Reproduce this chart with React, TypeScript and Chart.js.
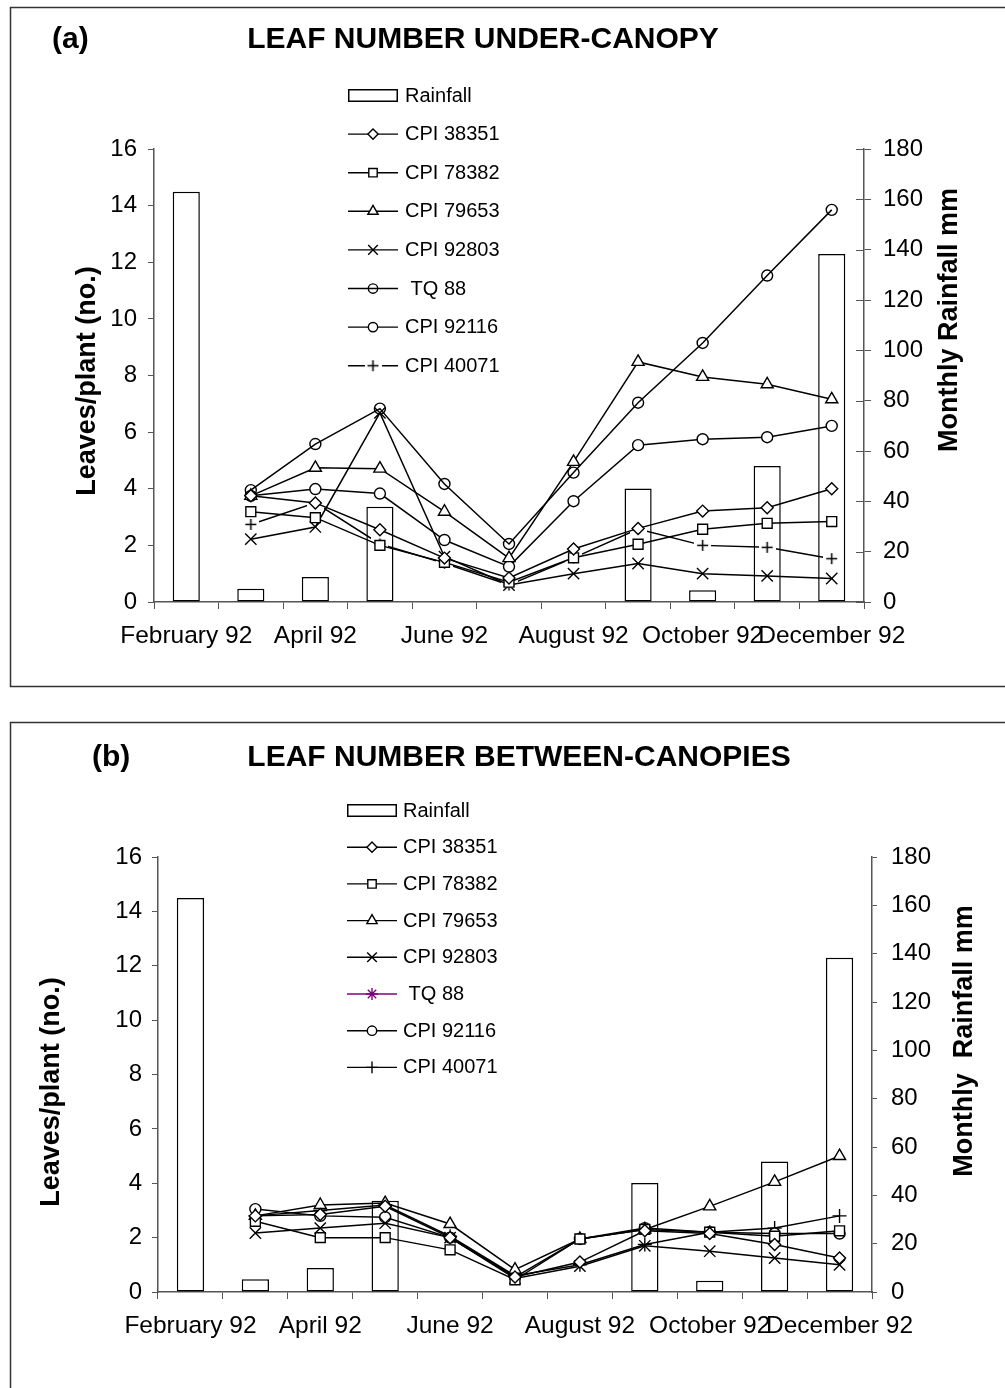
import React, { useEffect, useRef } from 'react';
import { Chart, registerables } from 'chart.js';

Chart.register(...registerables);

const FONT = '"Liberation Sans", Arial, Helvetica, sans-serif';

// Months of 1992 on the category axis (every other one is labelled)
const months = [
  'February 92', 'March 92', 'April 92', 'May 92', 'June 92', 'July 92',
  'August 92', 'September 92', 'October 92', 'November 92', 'December 92',
];

// Monthly rainfall (mm), right axis
const rainfallMm = [163, 5.3, 9.9, 37.8, 0, 0, 0, 45.1, 4.7, 54, 138.3];

// Leaves per plant under the canopy
const underCpi38351 = [null, 3.75, 3.5, 2.55, 1.55, 0.85, 1.87, 2.6, 3.21, 3.33, 4.0];
const underCpi78382 = [null, 3.19, 2.98, 2.0, 1.4, 0.7, 1.56, 2.04, 2.57, 2.78, 2.84];
const underCpi79653 = [null, 3.75, 4.74, 4.71, 3.19, 1.55, 4.95, 8.48, 7.95, 7.69, 7.16];
const underCpi92803 = [null, 2.22, 2.65, 6.68, 1.6, 0.6, 1.0, 1.36, 1.0, 0.92, 0.83];
const underTq88 = [null, 3.95, 5.58, 6.83, 4.17, 2.05, 4.57, 7.04, 9.15, 11.53, 13.85];
const underCpi92116 = [null, 3.75, 3.99, 3.83, 2.19, 1.25, 3.56, 5.54, 5.75, 5.82, 6.22];
const underCpi40071 = [null, 2.74, 3.5, 2.05, 1.37, 0.6, 1.56, 2.58, 2.0, 1.93, 1.53];

// Leaves per plant between the canopies
const betweenCpi38351 = [null, 2.8, 2.85, 3.15, 2.0, 0.55, 1.1, 2.25, 2.15, 1.75, 1.25];
const betweenCpi78382 = [null, 2.6, 2.0, 2.0, 1.55, 0.45, 1.95, 2.3, 2.2, 2.05, 2.25];
const betweenCpi79653 = [null, 2.8, 3.2, 3.27, 2.5, 0.82, 1.95, 2.3, 3.15, 4.05, 5.0];
const betweenCpi92803 = [null, 2.17, 2.35, 2.53, 2.0, 0.5, 0.95, 1.7, 1.5, 1.25, 1.0];
const betweenTq88 = [null, null, null, null, null, null, null, null, null, null, null];
const betweenCpi92116 = [null, 3.05, 2.8, 2.75, 2.0, 0.55, 1.95, 2.35, 2.2, 2.15, 2.15];
const betweenCpi40071 = [null, 2.8, 3.0, 3.2, 2.05, 0.6, 1.0, 1.75, 2.2, 2.35, 2.8];

// "+" marker drawn on a white box, so the line breaks around it
function boxedPlus(): HTMLCanvasElement {
  const c = document.createElement('canvas');
  c.width = 17;
  c.height = 17;
  const g = c.getContext('2d')!;
  g.fillStyle = '#fff';
  g.fillRect(0, 0, 17, 17);
  g.strokeStyle = '#000';
  g.lineWidth = 1.5;
  g.beginPath();
  g.moveTo(8.5, 3);
  g.lineTo(8.5, 14);
  g.moveTo(3, 8.5);
  g.lineTo(14, 8.5);
  g.stroke();
  return c;
}

type Series = {
  label: string;
  data: (number | null)[];
  style: any;
  radius: number;
  fill: string;
  color: string;
};

type Panel = {
  tag: string;
  title: string;
  tagX: number;
  titleX: number;
  titleY: number;
  leftTitle: string;
  leftTitleX: number;
  leftTitleY: number;
  rightTitle: string;
  rightTitleX: number;
  rightTitleY: number;
  legendX: number;
  legendTextX: number;
  legendY: number;
  legendGap: number;
  frameTop: number;
  frameBottom: number;
  area: { left: number; right: number; top: number; bottom: number };
  leftTickPad: number;
  rightTickPad: number;
  rightTickLen: number;
  rightInnerTick: number;
  xTickPad: number;
  series: Series[];
};

function buildPanels(): Panel[] {
  const plusBox = boxedPlus();
  const a: Panel = {
    tag: '(a)',
    title: 'LEAF NUMBER UNDER-CANOPY',
    tagX: 52,
    titleX: 483,
    titleY: 48,
    leftTitle: 'Leaves/plant (no.)',
    leftTitleX: 88,
    leftTitleY: 381,
    rightTitle: 'Monthly Rainfall mm',
    rightTitleX: 950,
    rightTitleY: 320,
    legendX: 348,
    legendTextX: 405,
    legendY: 95,
    legendGap: 38.6,
    frameTop: 7,
    frameBottom: 686,
    area: { left: 154, right: 864, top: 149, bottom: 602 },
    leftTickPad: 11,
    rightTickPad: 12,
    rightTickLen: 7,
    rightInnerTick: 8,
    xTickPad: 13,
    series: [
      { label: 'CPI 38351', data: underCpi38351, style: 'rectRot', radius: 6, fill: '#fff', color: '#000' },
      { label: 'CPI 78382', data: underCpi78382, style: 'rect', radius: 7, fill: '#fff', color: '#000' },
      { label: 'CPI 79653', data: underCpi79653, style: 'triangle', radius: 7, fill: '#fff', color: '#000' },
      { label: 'CPI 92803', data: underCpi92803, style: 'crossRot', radius: 8, fill: '#fff', color: '#000' },
      { label: ' TQ 88', data: underTq88, style: 'circle', radius: 5.5, fill: 'rgba(0,0,0,0)', color: '#000' },
      { label: 'CPI 92116', data: underCpi92116, style: 'circle', radius: 5.5, fill: '#fff', color: '#000' },
      { label: 'CPI 40071', data: underCpi40071, style: plusBox, radius: 6, fill: '#fff', color: '#000' },
    ],
  };
  const b: Panel = {
    tag: '(b)',
    title: 'LEAF NUMBER BETWEEN-CANOPIES',
    tagX: 92,
    titleX: 519,
    titleY: 66,
    leftTitle: 'Leaves/plant (no.)',
    leftTitleX: 52,
    leftTitleY: 392,
    rightTitle: 'Monthly  Rainfall mm',
    rightTitleX: 965,
    rightTitleY: 341,
    legendX: 347,
    legendTextX: 403,
    legendY: 110,
    legendGap: 36.7,
    frameTop: 22,
    frameBottom: 760,
    area: { left: 158, right: 872, top: 157, bottom: 592 },
    leftTickPad: 10,
    rightTickPad: 14,
    rightTickLen: 5,
    rightInnerTick: 0,
    xTickPad: 13,
    series: [
      { label: 'CPI 38351', data: betweenCpi38351, style: 'rectRot', radius: 6, fill: '#fff', color: '#000' },
      { label: 'CPI 78382', data: betweenCpi78382, style: 'rect', radius: 7, fill: '#fff', color: '#000' },
      { label: 'CPI 79653', data: betweenCpi79653, style: 'triangle', radius: 7, fill: '#fff', color: '#000' },
      { label: 'CPI 92803', data: betweenCpi92803, style: 'crossRot', radius: 8, fill: '#fff', color: '#000' },
      { label: ' TQ 88', data: betweenTq88, style: 'star', radius: 7, fill: '#fff', color: '#800080' },
      { label: 'CPI 92116', data: betweenCpi92116, style: 'circle', radius: 5.5, fill: '#fff', color: '#000' },
      { label: 'CPI 40071', data: betweenCpi40071, style: 'cross', radius: 7, fill: '#fff', color: '#000' },
    ],
  };
  return [a, b];
}

function drawMarker(ctx: CanvasRenderingContext2D, style: any, r: number, x: number, y: number, fill: string, stroke: string) {
  if (style instanceof HTMLCanvasElement) {
    ctx.drawImage(style, x - style.width / 2, y - style.height / 2);
    return;
  }
  ctx.save();
  ctx.lineWidth = 1.4;
  ctx.strokeStyle = stroke;
  ctx.fillStyle = fill;
  ctx.beginPath();
  const d = r * Math.SQRT1_2;
  switch (style) {
    case 'circle':
      ctx.arc(x, y, r, 0, Math.PI * 2);
      ctx.fill();
      break;
    case 'rect':
      ctx.rect(x - d, y - d, 2 * d, 2 * d);
      ctx.fill();
      break;
    case 'rectRot':
      ctx.moveTo(x, y - r);
      ctx.lineTo(x + r, y);
      ctx.lineTo(x, y + r);
      ctx.lineTo(x - r, y);
      ctx.closePath();
      ctx.fill();
      break;
    case 'triangle': {
      let rad = 0;
      ctx.moveTo(x + Math.sin(rad) * r, y - Math.cos(rad) * r);
      rad += (2 * Math.PI) / 3;
      ctx.lineTo(x + Math.sin(rad) * r, y - Math.cos(rad) * r);
      rad += (2 * Math.PI) / 3;
      ctx.lineTo(x + Math.sin(rad) * r, y - Math.cos(rad) * r);
      ctx.closePath();
      ctx.fill();
      break;
    }
    case 'crossRot':
      ctx.moveTo(x - d, y - d);
      ctx.lineTo(x + d, y + d);
      ctx.moveTo(x - d, y + d);
      ctx.lineTo(x + d, y - d);
      break;
    case 'cross':
      ctx.moveTo(x, y - r);
      ctx.lineTo(x, y + r);
      ctx.moveTo(x - r, y);
      ctx.lineTo(x + r, y);
      break;
    case 'star':
      ctx.moveTo(x, y - r);
      ctx.lineTo(x, y + r);
      ctx.moveTo(x - r, y);
      ctx.lineTo(x + r, y);
      ctx.moveTo(x - d, y - d);
      ctx.lineTo(x + d, y + d);
      ctx.moveTo(x - d, y + d);
      ctx.lineTo(x + d, y - d);
      break;
  }
  ctx.stroke();
  ctx.restore();
}

function decorPlugin(p: Panel) {
  return {
    id: 'panelDecor',
    beforeDraw(chart: any) {
      const ctx: CanvasRenderingContext2D = chart.ctx;
      ctx.save();
      ctx.strokeStyle = '#333';
      ctx.lineWidth = 1.5;
      ctx.strokeRect(10.5, p.frameTop + 0.5, 1100, p.frameBottom - p.frameTop);
      ctx.restore();
    },
    afterDraw(chart: any) {
      const ctx: CanvasRenderingContext2D = chart.ctx;
      ctx.save();
      ctx.fillStyle = '#000';

      // panel tag and title
      ctx.font = `bold 30px ${FONT}`;
      ctx.textBaseline = 'alphabetic';
      ctx.textAlign = 'left';
      ctx.fillText(p.tag, p.tagX, p.titleY);
      ctx.textAlign = 'center';
      ctx.fillText(p.title, p.titleX, p.titleY);

      // axis titles
      ctx.font = `bold 27px ${FONT}`;
      ctx.textBaseline = 'middle';
      for (const [text, x, y] of [
        [p.leftTitle, p.leftTitleX, p.leftTitleY],
        [p.rightTitle, p.rightTitleX, p.rightTitleY],
      ] as [string, number, number][]) {
        ctx.save();
        ctx.translate(x, y);
        ctx.rotate(-Math.PI / 2);
        ctx.fillText(text, 0, 0);
        ctx.restore();
      }

      // inner half of the right axis ticks
      if (p.rightInnerTick > 0) {
        const y1 = chart.scales.y1;
        const right = chart.chartArea.right;
        ctx.strokeStyle = '#555';
        ctx.lineWidth = 1;
        ctx.beginPath();
        for (const t of y1.ticks) {
          const py = Math.round(y1.getPixelForValue(t.value)) + 0.5;
          ctx.moveTo(right - p.rightInnerTick, py);
          ctx.lineTo(right, py);
        }
        ctx.stroke();
      }

      // legend
      ctx.font = `20px ${FONT}`;
      ctx.textAlign = 'left';
      ctx.textBaseline = 'middle';
      chart.data.datasets.forEach((ds: any, i: number) => {
        const y = p.legendY + i * p.legendGap;
        const x0 = p.legendX;
        if (ds.type === 'bar') {
          ctx.save();
          ctx.fillStyle = '#fff';
          ctx.strokeStyle = '#000';
          ctx.lineWidth = 1.5;
          ctx.fillRect(x0, y - 6, 50, 12);
          ctx.strokeRect(x0 + 0.75, y - 6 + 0.75, 48.5, 11.5);
          ctx.restore();
        } else {
          ctx.save();
          ctx.strokeStyle = ds.borderColor;
          ctx.lineWidth = 1.4;
          ctx.beginPath();
          ctx.moveTo(x0, y + 0.5);
          ctx.lineTo(x0 + 50, y + 0.5);
          ctx.stroke();
          ctx.restore();
          drawMarker(ctx, ds.pointStyle, ds.pointRadius * 0.85, x0 + 25, y + 0.5, ds.pointBackgroundColor, ds.pointBorderColor);
        }
        ctx.fillStyle = '#000';
        ctx.fillText(ds.label, p.legendTextX, y + 1);
      });
      ctx.restore();
    },
  };
}

function buildConfig(p: Panel, width: number, height: number): any {
  const tickFont = { family: FONT, size: 24 };
  const datasets: any[] = [
    {
      type: 'bar',
      label: 'Rainfall',
      data: rainfallMm,
      yAxisID: 'y1',
      backgroundColor: '#fff',
      borderColor: '#000',
      borderWidth: 1.5,
      borderSkipped: false,
      barPercentage: 0.42,
      categoryPercentage: 1,
      order: 1,
    },
    ...p.series.map((s) => ({
      type: 'line',
      label: s.label,
      data: s.data,
      yAxisID: 'y',
      borderColor: s.color,
      borderWidth: 1.5,
      pointStyle: s.style,
      pointRadius: s.radius,
      pointHoverRadius: s.radius,
      pointBackgroundColor: s.fill,
      pointBorderColor: s.color,
      pointBorderWidth: 1.4,
      tension: 0,
      fill: false,
      spanGaps: false,
      order: 0,
    })),
  ];
  return {
    type: 'bar',
    data: { labels: months, datasets },
    options: {
      responsive: false,
      maintainAspectRatio: false,
      animation: false,
      events: [],
      layout: { padding: { left: 0, right: 0, top: p.area.top, bottom: 0 } },
      plugins: {
        legend: { display: false },
        title: { display: false },
        tooltip: { enabled: false },
      },
      scales: {
        x: {
          type: 'category',
          offset: true,
          grid: { offset: true, drawOnChartArea: false, drawTicks: true, tickLength: 7, color: '#555', lineWidth: 1 },
          border: { display: true, color: '#555', width: 1.5 },
          ticks: {
            autoSkip: false,
            maxRotation: 0,
            minRotation: 0,
            padding: p.xTickPad,
            color: '#000',
            font: { family: FONT, size: 24.5 },
            callback: (_v: any, i: number) => (i % 2 === 0 ? months[i] : ''),
          },
          afterFit: (s: any) => {
            s.height = height - p.area.bottom;
          },
        },
        y: {
          position: 'left',
          min: 0,
          max: 16,
          grid: { drawOnChartArea: false, drawTicks: true, tickLength: 6, color: '#555', lineWidth: 1 },
          border: { display: true, color: '#555', width: 1.5 },
          ticks: { stepSize: 2, padding: p.leftTickPad, color: '#000', font: tickFont },
          afterFit: (s: any) => {
            s.width = p.area.left;
          },
        },
        y1: {
          position: 'right',
          min: 0,
          max: 180,
          grid: { drawOnChartArea: false, drawTicks: true, tickLength: p.rightTickLen, color: '#555', lineWidth: 1 },
          border: { display: true, color: '#555', width: 1.5 },
          ticks: { stepSize: 20, padding: p.rightTickPad, color: '#000', font: tickFont },
          afterFit: (s: any) => {
            s.width = width - p.area.right;
          },
        },
      },
    },
    plugins: [decorPlugin(p)],
  };
}

function PanelChart({ panel, top, height }: { panel: Panel; top: number; height: number }) {
  const ref = useRef<HTMLCanvasElement>(null);
  useEffect(() => {
    const chart = new Chart(ref.current!, buildConfig(panel, 1005, height));
    return () => chart.destroy();
  }, [panel, height]);
  return (
    <canvas
      ref={ref}
      width={1005}
      height={height}
      style={{ position: 'absolute', left: 0, top, width: 1005, height, display: 'block' }}
    />
  );
}

const [panelA, panelB] = buildPanels();

export default function App() {
  return (
    <div
      style={{
        position: 'absolute',
        left: 0,
        top: 0,
        width: 1005,
        height: 1388,
        overflow: 'hidden',
        background: '#fff',
      }}
    >
      <PanelChart panel={panelA} top={0} height={700} />
      <PanelChart panel={panelB} top={700} height={688} />
    </div>
  );
}
